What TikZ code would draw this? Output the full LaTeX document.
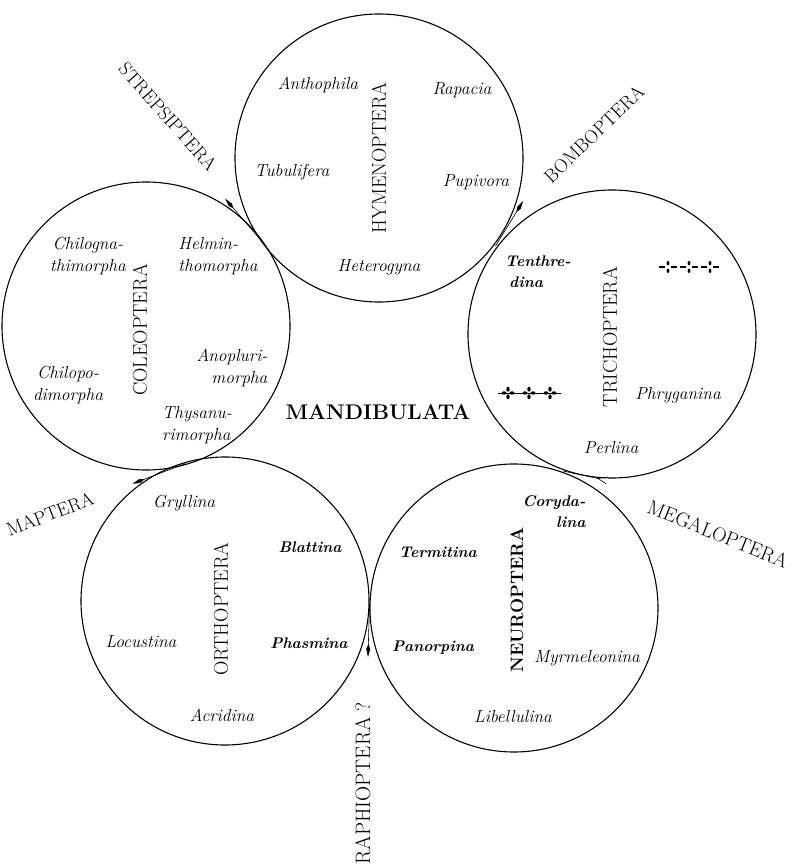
\documentclass[tikz,border=0pt]{standalone}
\usetikzlibrary{arrows.meta,calc}

\begin{document}
\begin{tikzpicture}[x=1bp,y=1bp,
  order/.style={draw,circle,line width=1.1pt,minimum size=288bp,inner sep=0pt},
  ordname/.style={rotate=90,inner sep=0pt,font=\fontsize{20}{20}\selectfont},
  sub/.style={inner sep=0pt,align=center,font=\fontsize{17.5}{22}\selectfont\itshape},
  subb/.style={inner sep=0pt,align=center,font=\fontsize{15.5}{21}\selectfont\bfseries\itshape},
  outer/.style={inner sep=0pt,font=\fontsize{19}{19}\selectfont},
  branch/.style={line width=0.6pt,-{Kite[length=13pt,width=4pt,inset=5pt]}}]
\useasboundingbox (-375,-461) rectangle (420,405);

\node[order] (hym) at (4,247) {};
\node[order] (tri) at (237,71) {};
\node[order] (col) at (-229,79) {};
\node[order] (orth) at (-150,-196) {};
\node[order] (neu) at (139,-203) {};

% Hymenoptera
\node[ordname] (hymname) at (hym) {HYMENOPTERA};
\node[sub] (anthophila) at ([shift={(-61,73)}]hym) {Anthophila};
\node[sub] (rapacia) at ([shift={(83,68)}]hym) {Rapacia};
\node[sub] (tubulifera) at ([shift={(-87,-14)}]hym) {Tubulifera};
\node[sub] (pupivora) at ([shift={(97,-24)}]hym) {Pupivora};
\node[sub] (heterogyna) at ([shift={(0,-109)}]hym) {Heterogyna};

% Coleoptera
\node[ordname] (colname) at ([shift={(-6,-4)}]col) {COLEOPTERA};
\node[sub] (chilogn) at ([shift={(-58,70)}]col) {Chilogna-\\thimorpha};
\node[sub,align=left] (helmin) at ([shift={(72,70)}]col) {Helmin-\\thomorpha};
\node[sub] (chilopo) at ([shift={(-78,-59)}]col) {Chilopo-\\dimorpha};
\node[sub,align=right] (anopl) at ([shift={(86,-42)}]col) {Anopluri-\\morpha};
\node[sub,align=left] (thysan) at ([shift={(51,-99)}]col) {Thysanu-\\rimorpha};

% Trichoptera
\node[ordname] (triname) at ([shift={(-2,-3)}]tri) {TRICHOPTERA};
\node[subb,align=left] (tenthr) at ([shift={(-74,62)}]tri) {Tenthre-\\\hspace{4bp}dina};
\node[sub] (phryg) at ([shift={(66,-61)}]tri) {Phryganina};
\node[sub] (perlina) at ([shift={(-1,-114)}]tri) {Perlina};
\begin{scope}[shift={(314,138)}]
\foreach \k in {-1,0,1} {
  \fill (\k*21,3.8) ellipse [x radius=1.4pt,y radius=2.2pt];
  \fill (\k*21,-3.8) ellipse [x radius=1.4pt,y radius=2.2pt];
  \draw[line width=1.4pt] (\k*21-9,0) -- (\k*21-3,0) (\k*21+3,0) -- (\k*21+9,0);
}
\end{scope}
\begin{scope}[shift={(154,12)}]
\foreach \k in {-1,0,1} {
  \fill (\k*21,3.8) ellipse [x radius=1.7pt,y radius=2.5pt];
  \fill (\k*21,-3.8) ellipse [x radius=1.7pt,y radius=2.5pt];
  \fill (\k*21-4,0) ellipse [x radius=2.5pt,y radius=1.7pt];
  \fill (\k*21+4,0) ellipse [x radius=2.5pt,y radius=1.7pt];
  \draw[line width=1pt] (\k*21-10.5,0) -- (\k*21+10.5,0);
}
\end{scope}

% Orthoptera
\node[ordname] (orthname) at ([shift={(-4,-8)}]orth) {ORTHOPTERA};
\node[sub] (gryllina) at ([shift={(-41,98)}]orth) {Gryllina};
\node[subb] (blattina) at ([shift={(85,54)}]orth) {Blattina};
\node[sub] (locustina) at ([shift={(-84,-41)}]orth) {Locustina};
\node[subb] (phasmina) at ([shift={(84,-42)}]orth) {Phasmina};
\node[sub] (acridina) at ([shift={(-3,-114)}]orth) {Acridina};

% Neuroptera
\node[ordname,font=\fontsize{18}{18}\selectfont\bfseries] (neuname) at ([shift={(3,8)}]neu) {NEUROPTERA};
\node[subb,align=right] (coryd) at ([shift={(40,96)}]neu) {Coryda-\\lina};
\node[subb] (termitina) at ([shift={(-76,56)}]neu) {Termitina};
\node[subb] (panorpina) at ([shift={(-81,-40)}]neu) {Panorpina};
\node[sub] (myrmel) at ([shift={(73,-50)}]neu) {Myrmeleonina};
\node[sub] (libell) at ([shift={(-1,-109)}]neu) {Libellulina};

\node[inner sep=0pt,font=\fontsize{21.3}{21}\selectfont\bfseries] (mandib) at (3,-7) {MANDIBULATA};

% branches
\coordinate (t1) at ($(hym)!.5!(col)$);
\coordinate (t2) at ($(hym)!.5!(tri)$);
\coordinate (t3) at ($(col)!.5!(orth)$);
\coordinate (t4) at ($(orth)!.5!(neu)$);
\coordinate (t5) at ($(neu)!.5!(tri)$);
\coordinate (a1) at (126:255);
\coordinate (a2) at (54:252);
\coordinate (a3) at (198:255);
\coordinate (a4) at (-7,-252);
\coordinate (a5) at (342:244);
\draw[branch] (t1) -- (a1);
\draw[branch] (t2) -- (a2);
\draw[branch] (t3) -- (a3);
\draw[branch] (t4) -- (a4);
\draw[line width=0.6pt,-{Straight Barb[reversed,length=9pt,width=7pt]}] (t5) -- (a5);

\node[outer,rotate=-48.5] (strep) at (-207,288) {STREPSIPTERA};
\node[outer,rotate=44] (bombo) at (219,271) {BOMBOPTERA};
\node[outer,rotate=21] (mapt) at (-325,-109) {MAPTERA};
\node[outer,rotate=90,anchor=east,font=\fontsize{21}{21}\selectfont] (raph) at (-12,-297) {RAPHIOPTERA\hspace{6bp}?};
\node[outer,rotate=-22,font=\fontsize{20}{20}\selectfont] (megal) at (343,-129) {MEGALOPTERA};
\end{tikzpicture}
\end{document}
